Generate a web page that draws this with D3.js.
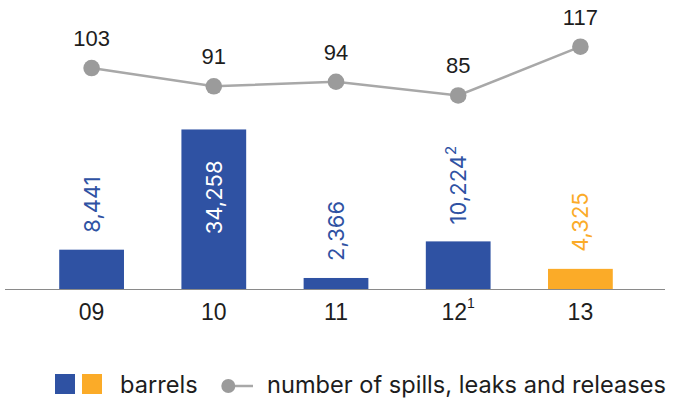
<!DOCTYPE html>
<html>
<head>
<meta charset="utf-8">
<script src="https://cdn.jsdelivr.net/npm/d3@7"></script>
<style>
  html, body { margin: 0; padding: 0; background: #fff; }
  svg { display: block; }
</style>
</head>
<body>
<svg id="chart" width="673" height="398"></svg>
<script>
// Years shown on the axis, with footnote markers
const years = ["09", "10", "11", "12", "13"];
const yearNotes = ["", "", "", "1", ""];

// Volume spilled, in barrels
const barrels = [8441, 34258, 2366, 10224, 4325];
const barrelNotes = ["", "", "", "2", ""];

// Number of spills, leaks and releases
const incidents = [103, 91, 94, 85, 117];

const BLUE = "#2f52a3";
const ORANGE = "#fbab28";
const GREY = "#9b9b9b";
const LINE = "#a8a8a8";
const INK = "#1d1d1d";
const NUM_FONT = "'Liberation Sans', Arial, sans-serif";
const TXT_FONT = "Inter, 'Noto Sans', sans-serif";

const svg = d3.select("#chart");
const baseY = 289;

const x = d3.scaleBand()
  .domain(years)
  .range([30.5, 641.5])
  .paddingInner(0.47)
  .paddingOuter(0.235);

const yBar = d3.scaleLinear().domain([0, 35000]).range([baseY, baseY - 163]);
const yLine = d3.scaleLinear().domain([0, 117]).range([225, 46.7]);

const barColor = i => (i === years.length - 1 ? ORANGE : BLUE);
const cx = i => x(years[i]) + x.bandwidth() / 2;

// Bars
svg.append("g").selectAll("rect")
  .data(barrels)
  .join("rect")
  .attr("x", (d, i) => x(years[i]))
  .attr("y", d => yBar(d))
  .attr("width", x.bandwidth())
  .attr("height", d => baseY - yBar(d))
  .attr("fill", (d, i) => barColor(i));

// Baseline
svg.append("line")
  .attr("x1", 5).attr("x2", 665)
  .attr("y1", baseY + 0.5).attr("y2", baseY + 0.5)
  .attr("stroke", "#8a8a8a").attr("stroke-width", 1);

// Vertical value labels on the bars
svg.append("g").selectAll("text")
  .data(barrels)
  .join("text")
  .attr("font-family", TXT_FONT)
  .attr("font-size", 22)
  .attr("dy", "0.36em")
  .each(function (d, i) {
    const inside = baseY - yBar(d) > 100;
    const t = d3.select(this);
    const px = cx(i);
    const py = inside ? yBar(d) + 31 : yBar(d) - 17;
    t.attr("transform", `translate(${px},${py}) rotate(-90)`)
      .attr("text-anchor", inside ? "end" : "start")
      .attr("fill", inside ? "#ffffff" : barColor(i));
    t.append("tspan").text(d3.format(",")(d));
    if (barrelNotes[i]) {
      t.append("tspan")
        .attr("font-size", 15)
        .attr("dy", "-0.7em")
        .text(barrelNotes[i]);
    }
  });

// Year labels under the baseline
const axis = d3.axisBottom(x).tickSize(0).tickPadding(0).tickFormat("");
const axisG = svg.append("g").attr("transform", `translate(0,${baseY})`).call(axis);
axisG.select(".domain").remove();
axisG.selectAll(".tick").each(function (d, i) {
  const t = d3.select(this).append("text")
    .attr("y", 31)
    .attr("text-anchor", "middle")
    .attr("font-family", NUM_FONT)
    .attr("font-size", 23)
    .attr("fill", INK);
  t.append("tspan").text(years[i]);
  if (yearNotes[i]) {
    t.append("tspan")
      .attr("font-size", 14)
      .attr("dy", "-0.85em")
      .text(yearNotes[i]);
  }
});

// Incident line
const line = d3.line()
  .x((d, i) => cx(i))
  .y(d => yLine(d));

svg.append("path")
  .datum(incidents)
  .attr("d", line)
  .attr("fill", "none")
  .attr("stroke", LINE)
  .attr("stroke-width", 2.5);

svg.append("g").selectAll("circle")
  .data(incidents)
  .join("circle")
  .attr("cx", (d, i) => cx(i))
  .attr("cy", d => yLine(d))
  .attr("r", 8.3)
  .attr("fill", GREY);

svg.append("g").selectAll("text")
  .data(incidents)
  .join("text")
  .attr("x", (d, i) => cx(i))
  .attr("y", d => yLine(d) - 22)
  .attr("text-anchor", "middle")
  .attr("font-family", NUM_FONT)
  .attr("font-size", 22)
  .attr("fill", INK)
  .text(d => d);

// Legend
const legend = svg.append("g");
legend.append("rect").attr("x", 55).attr("y", 374).attr("width", 20).attr("height", 20).attr("fill", BLUE);
legend.append("rect").attr("x", 82).attr("y", 374).attr("width", 20).attr("height", 20).attr("fill", ORANGE);
legend.append("text")
  .attr("x", 120).attr("y", 393)
  .attr("font-family", TXT_FONT).attr("font-size", 23.6)
  .attr("fill", INK)
  .text("barrels");
legend.append("line")
  .attr("x1", 228).attr("x2", 253).attr("y1", 386).attr("y2", 386)
  .attr("stroke", LINE).attr("stroke-width", 2.5);
legend.append("circle").attr("cx", 228.3).attr("cy", 386).attr("r", 7).attr("fill", GREY);
legend.append("text")
  .attr("x", 267).attr("y", 393)
  .attr("font-family", TXT_FONT).attr("font-size", 23.6)
  .attr("fill", INK)
  .text("number of spills, leaks and releases");
</script>
</body>
</html>
